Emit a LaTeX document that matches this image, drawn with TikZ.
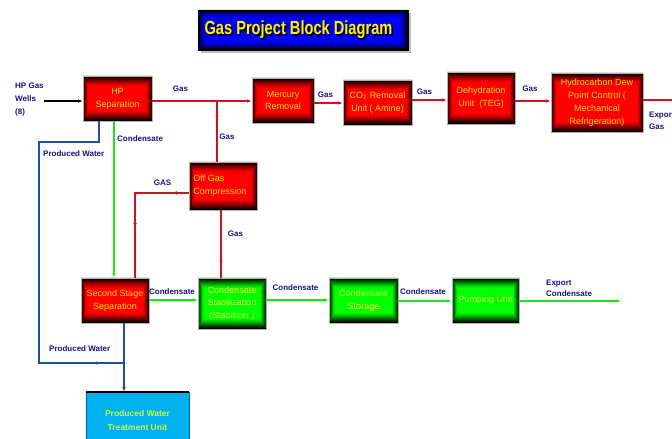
\documentclass[tikz,border=0pt]{standalone}
\usepackage{fontspec}
\setmainfont{Liberation Sans}
\usetikzlibrary{arrows.meta,decorations.markings,calc}
\definecolor{boxred}{RGB}{255,0,0}
\definecolor{boxgreen}{RGB}{0,255,0}
\definecolor{titleblue}{RGB}{0,0,255}
\definecolor{txtyellow}{RGB}{255,220,0}
\definecolor{txtlime}{RGB}{210,255,60}
\definecolor{lblnavy}{RGB}{20,20,130}
\definecolor{gasred}{RGB}{205,20,30}
\definecolor{condgreen}{RGB}{20,235,20}
\definecolor{waterblue}{RGB}{30,80,160}
\definecolor{treatblue}{RGB}{0,176,240}
\definecolor{treattxt}{RGB}{205,255,40}
\tikzset{
  glow/.style n args={3}{path picture={
    \foreach \i [evaluate=\i as \op using {(1-\i/#1)^1.3}, evaluate=\i as \j using {\i+1}] in {0,...,#1}{
      \fill[black, opacity=\op, even odd rule]
        ([shift={({\i*#2},{-\i*#3})}]path picture bounding box.north west) rectangle
        ([shift={({-\i*#2},{\i*#3})}]path picture bounding box.south east)
        ([shift={({\j*#2},{-\j*#3})}]path picture bounding box.north west) rectangle
        ([shift={({-\j*#2},{\j*#3})}]path picture bounding box.south east);}}},
  blockbox/.style={draw=gray!60, line width=0.6bp, glow={10}{0.55bp}{1bp}, align=center, inner sep=0pt,
    font=\fontsize{9bp}{12.8bp}\selectfont},
  redbox/.style={blockbox, fill=boxred, text=txtyellow},
  greenbox/.style={blockbox, fill=boxgreen, text=txtlime},
  lbl/.style={text=lblnavy, font=\bfseries\fontsize{8bp}{11bp}\selectfont, inner sep=0pt, align=left},
  tip/.style={-{Latex[length=4.5bp,width=3.5bp]}},
  midtip/.style={postaction={decorate}, decoration={markings,
    mark=at position #1 with {\arrow{Latex[length=4.5bp,width=3.5bp]}}}},
  gasline/.style={gasred, line width=1.5bp},
  condline/.style={condgreen, line width=1.8bp},
  waterline/.style={waterblue, line width=1.5bp},
}
\begin{document}
\begin{tikzpicture}[x=1bp,y=-1bp]
\useasboundingbox (0,0) rectangle (672,439);
\fill[white] (0,0) rectangle (672,439);

% title
\fill[gray!50] (201,13) rectangle (411,53);
\node[draw=black, line width=0.5bp, fill=titleblue, glow={9}{0.9bp}{0.9bp}, minimum width=210bp, minimum height=40bp, inner sep=0pt] (title) at (303,30) {};
\node[text=black, font=\bfseries\fontsize{19bp}{22bp}\selectfont] (titleshadow) at (300,31.5) {\scalebox{0.77}[1]{Gas Project Block Diagram}};
\node[text=yellow, font=\bfseries\fontsize{19bp}{22bp}\selectfont] (titletext) at (298.5,30) {\scalebox{0.77}[1]{Gas Project Block Diagram}};

% blocks
\node[redbox, minimum width=69bp, minimum height=45bp] (hp) at (117.5,98.5) {HP\\Separation};
\node[redbox, minimum width=62bp, minimum height=45bp] (merc) at (283,100.5) {Mercury\\Removal};
\node[redbox, minimum width=69bp, minimum height=45bp] (co2) at (377.5,102.5) {CO\textsubscript{2} Removal\\Unit ( Amine)};
\node[redbox, minimum width=68bp, minimum height=52bp] (dehy) at (481,98) {Dehydration\\Unit~ (TEG)};
\node[redbox, minimum width=92bp, minimum height=59bp] (hc) at (597,102.5) {Hydrocarbon Dew\\Point Control (\\Mechanical\\Refrigeration)};
\node[redbox, minimum width=68bp, minimum height=48bp, align=left] (off) at (223,186) {Off Gas\\Compression\rule{6bp}{0pt}};
\node[redbox, minimum width=68bp, minimum height=45bp] (second) at (115,300.5) {Second Stage\\Separation};
\node[greenbox, minimum width=68bp, minimum height=51bp] (stab) at (232,303.5) {Condensate\\Stabilization\\(Stabilizer )};
\node[greenbox, minimum width=69bp, minimum height=45bp] (stor) at (363.5,300.5) {Condensate\\Storage};
\node[greenbox, minimum width=67bp, minimum height=45bp] (pump) at (485.5,300.5) {Pumping Unit};
\node[draw=treatblue!60!black, line width=0.6bp, fill=treatblue, minimum width=103bp, minimum height=56bp, inner sep=0pt, align=center, text=treattxt, font=\bfseries\fontsize{8.5bp}{14bp}\selectfont] (treat) at (137.5,420) {Produced Water\\Treatment Unit};
\draw[black, line width=2bp] (treat.north west) -- (treat.north east);

% source label
\node[lbl, anchor=west, font=\bfseries\fontsize{8bp}{13bp}\selectfont] (wells) at (15,100) {HP Gas\\Wells\\(8)};

% helper coordinates
\coordinate (yA) at (0,101);
\coordinate (yB) at (0,103);
\coordinate (yC) at (0,100);
\coordinate (yD) at (0,300);
\coordinate (yE) at (0,301);
\coordinate (j1) at (217,101);
\coordinate (gx) at (135,193);
\coordinate (sx) at (221,0);
\coordinate (cx) at (114,0);
\coordinate (wx) at (99,142);
\coordinate (wl) at (39,142);
\coordinate (wb) at (39,363);
\coordinate (wx2) at (124,363);
\coordinate (expG) at (690,100);
\coordinate (expC) at (621,301);

% connectors
\draw[black, line width=2bp, tip] (wells.east |- yA) -- (hp.west |- yA);
\draw[gasline, tip] (hp.east |- yA) -- (merc.west |- yA);
\draw[gasline, tip] (merc.east |- yB) -- (co2.west |- yB);
\draw[gasline, tip] (co2.east |- yC) -- (dehy.west |- yC);
\draw[gasline, tip] (dehy.east |- yA) -- (hc.west |- yA);
\draw[gasline] (hc.east |- yC) -- (expG);
\draw[gasline, midtip=0.82] (off.north -| j1) -- (j1);
\draw[gasline, midtip=0.42, midtip=0.94] (second.north -| gx) -- (gx) -- (off.west |- gx);
\draw[gasline, midtip=0.31] (stab.north -| sx) -- (off.south -| sx);
\draw[condline, tip] (hp.south -| cx) -- (second.north -| cx);
\draw[condline, tip] (second.east |- yD) -- (stab.west |- yD);
\draw[condline, tip] (stab.east |- yD) -- (stor.west |- yD);
\draw[condline, tip] (stor.east |- yE) -- (pump.west |- yE);
\draw[condline, tip] (pump.east |- yE) -- (expC);
\draw[waterline, midtip=0.94] (hp.south -| wx) -- (wx) -- (wl) -- (wb) -- (wx2);
\draw[waterline, tip] (second.south -| wx2) -- (treat.north -| wx2);

% labels
\node[lbl] (lg1) at (180.5,89) {Gas};
\node[lbl] (lg2) at (227,137) {Gas};
\node[lbl] (lg3) at (325.5,95) {Gas};
\node[lbl] (lg4) at (424.5,92) {Gas};
\node[lbl] (lg5) at (530,89) {Gas};
\node[lbl, anchor=west, font=\bfseries\fontsize{8bp}{12bp}\selectfont] (lexp) at (649,121) {Export\\Gas};
\node[lbl] (lgas) at (162.5,183) {GAS};
\node[lbl] (lg6) at (235.5,234) {Gas};
\node[lbl, anchor=west] (lc1) at (117,138.5) {Condensate};
\node[lbl, anchor=west] (lw1) at (43,153.5) {Produced Water};
\node[lbl, anchor=west] (lw2) at (49,349) {Produced Water};
\node[lbl] (lc2) at (172,291.5) {Condensate};
\node[lbl] (lc3) at (295.5,288) {Condensate};
\node[lbl] (lc4) at (423,291.5) {Condensate};
\node[lbl, anchor=west, font=\bfseries\fontsize{8bp}{11bp}\selectfont] (lexc) at (546,288.5) {Export\\Condensate};
\end{tikzpicture}
\end{document}
